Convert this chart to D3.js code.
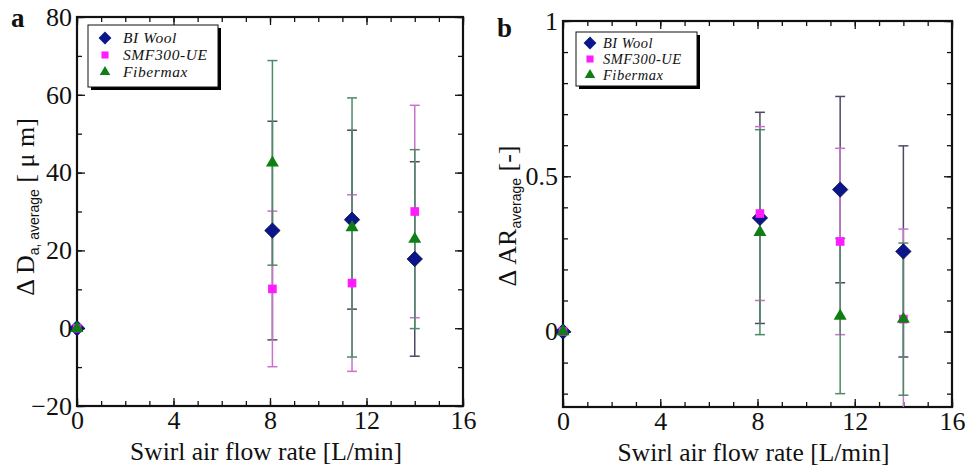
<!DOCTYPE html>
<html>
<head>
<meta charset="utf-8">
<script src="https://cdn.jsdelivr.net/npm/d3@7"></script>
<style>
  body { margin: 0; background: #fff; }
  svg { display: block; }
</style>
</head>
<body>
<div id="chart"></div>
<script>
// swirl air flow rate [L/min]
var flowRates = [0, 8.1, 11.4, 14.0];
var seriesNames = ["BI Wool", "SMF300-UE", "Fibermax"];

// panel a: change of average diameter [um], with error bar half widths
var daBIWool = [0, 25.1, 27.9, 17.8];
var daBIWoolErr = [0, 28.1, 23.0, 25.0];
var daSMF = [0, 10.1, 11.6, 30.0];
var daSMFErr = [0, 20.0, 22.7, 27.3];
var daFiber = [0, 42.5, 25.9, 22.9];
var daFiberErr = [0, 26.3, 33.3, 23.0];

// panel b: change of average aspect ratio [-]
var arBIWool = [0, 0.366, 0.457, 0.258];
var arBIWoolErr = [0, 0.34, 0.30, 0.34];
var arSMF = [0, 0.38, 0.29, 0.04];
var arSMFErr = [0, 0.28, 0.30, 0.29];
var arFiber = [0, 0.32, 0.05, 0.04];
var arFiberErr = [0, 0.33, 0.25, 0.245];

var xTicks = [0, 4, 8, 12, 16];
var xMinor = d3.range(0, 17, 1);
var yTicksA = [-20, 0, 20, 40, 60, 80];
var yMinorA = d3.range(-20, 81, 10);
var yTicksB = [0, 0.5, 1];
var yMinorB = d3.range(-2, 11, 1).map(function (d) { return d / 10; });

var serif = "'Liberation Serif', 'Times New Roman', serif";
var markerFill = { "BI Wool": "#0b168a", "SMF300-UE": "#ff1cff", "Fibermax": "#0f7f14" };
var barColor = { "BI Wool": "#4a4a66", "SMF300-UE": "#c872cc", "Fibermax": "#4d8a66" };
var symbolType = { "BI Wool": d3.symbolDiamond2, "SMF300-UE": d3.symbolSquare2, "Fibermax": d3.symbolTriangle2 };

var svg = d3.select("#chart").append("svg").attr("width", 968).attr("height", 471);

function buildRows(vals) {
  // vals: [[values, errors], ...] in series order
  var rows = [];
  vals.forEach(function (pair, si) {
    flowRates.forEach(function (x, i) {
      rows.push({ name: seriesNames[si], x: x, y: pair[0][i], e: pair[1][i] });
    });
  });
  return rows;
}

function drawPanel(cfg) {
  var x = d3.scaleLinear().domain([0, 16]).range([cfg.left, cfg.right]);
  var y = d3.scaleLinear().domain(cfg.yDomain).range([cfg.bottom, cfg.top]);
  var g = svg.append("g");

  var clipId = "clip-" + cfg.id;
  g.append("clipPath").attr("id", clipId).append("rect")
    .attr("x", cfg.left).attr("y", cfg.top)
    .attr("width", cfg.right - cfg.left).attr("height", cfg.bottom - cfg.top);

  // ticks, all pointing inward, mirrored on top and right
  function addAxis(axis, tx, ty, labels) {
    var a = g.append("g").attr("transform", "translate(" + tx + "," + ty + ")").call(axis);
    a.select(".domain").remove();
    a.selectAll("line").attr("stroke", "#111").attr("stroke-width", 1.3);
    a.selectAll("text").attr("font-family", serif).attr("font-size", 26).attr("fill", "#111");
    if (!labels) a.selectAll("text").remove();
    return a;
  }
  addAxis(d3.axisBottom(x).tickValues(xMinor).tickSize(-5).tickFormat(""), 0, cfg.bottom, false);
  addAxis(d3.axisTop(x).tickValues(xMinor).tickSize(-5).tickFormat(""), 0, cfg.top, false);
  addAxis(d3.axisBottom(x).tickValues(xTicks).tickSize(-8).tickPadding(5).tickFormat(d3.format("d")), 0, cfg.bottom, true);
  addAxis(d3.axisTop(x).tickValues(xTicks).tickSize(-8).tickFormat(""), 0, cfg.top, false);
  addAxis(d3.axisLeft(y).tickValues(cfg.yMinor).tickSize(-5).tickFormat(""), cfg.left, 0, false);
  addAxis(d3.axisRight(y).tickValues(cfg.yMinor).tickSize(-5).tickFormat(""), cfg.right, 0, false);
  addAxis(d3.axisLeft(y).tickValues(cfg.yTicks).tickSize(-8).tickPadding(5).tickFormat(cfg.yFormat), cfg.left, 0, true);
  addAxis(d3.axisRight(y).tickValues(cfg.yTicks).tickSize(-8).tickFormat(""), cfg.right, 0, false);

  g.append("rect")
    .attr("x", cfg.left).attr("y", cfg.top)
    .attr("width", cfg.right - cfg.left).attr("height", cfg.bottom - cfg.top)
    .attr("fill", "none").attr("stroke", "#111").attr("stroke-width", 2.2);

  // error bars
  var bars = cfg.rows.filter(function (d) { return d.e > 0; });
  var eb = g.append("g").attr("clip-path", "url(#" + clipId + ")")
    .selectAll("g").data(bars).join("g")
    .attr("stroke", function (d) { return barColor[d.name]; })
    .attr("stroke-width", 1.5);
  eb.append("line")
    .attr("x1", function (d) { return x(d.x); }).attr("x2", function (d) { return x(d.x); })
    .attr("y1", function (d) { return y(d.y - d.e); }).attr("y2", function (d) { return y(d.y + d.e); });
  eb.append("line")
    .attr("x1", function (d) { return x(d.x) - 5; }).attr("x2", function (d) { return x(d.x) + 5; })
    .attr("y1", function (d) { return y(d.y + d.e); }).attr("y2", function (d) { return y(d.y + d.e); });
  eb.append("line")
    .attr("x1", function (d) { return x(d.x) - 5; }).attr("x2", function (d) { return x(d.x) + 5; })
    .attr("y1", function (d) { return y(d.y - d.e); }).attr("y2", function (d) { return y(d.y - d.e); });

  // markers
  var sizes = { "BI Wool": 150, "SMF300-UE": 95, "Fibermax": 120 };
  g.append("g").selectAll("path").data(cfg.rows).join("path")
    .attr("transform", function (d) { return "translate(" + x(d.x) + "," + y(d.y) + ")"; })
    .attr("d", function (d) { return d3.symbol(symbolType[d.name], sizes[d.name])(); })
    .attr("fill", function (d) { return markerFill[d.name]; })
    .attr("stroke", function (d) { return d.name === "BI Wool" ? "#0a0a4a" : "none"; })
    .attr("stroke-width", 0.8);

  // legend
  var lg = g.append("g").attr("transform", "translate(" + cfg.legend[0] + "," + cfg.legend[1] + ")");
  lg.append("rect").attr("x", 3).attr("y", 3).attr("width", cfg.legendSize[0]).attr("height", cfg.legendSize[1]).attr("fill", "#000");
  lg.append("rect").attr("width", cfg.legendSize[0]).attr("height", cfg.legendSize[1])
    .attr("fill", "#fff").attr("stroke", "#111").attr("stroke-width", 1);
  var legendSizes = { "BI Wool": 105, "SMF300-UE": 64, "Fibermax": 80 };
  var items = lg.selectAll("g.item").data(seriesNames).join("g").attr("class", "item")
    .attr("transform", function (d, i) { return "translate(0," + (cfg.legendRow0 + i * cfg.legendStep) + ")"; });
  items.append("path")
    .attr("transform", "translate(" + cfg.legendMarkX + ",0)")
    .attr("d", function (d) { return d3.symbol(symbolType[d], legendSizes[d])(); })
    .attr("fill", function (d) { return markerFill[d]; });
  items.append("text")
    .attr("x", cfg.legendTextX).attr("dy", "0.35em")
    .attr("font-family", serif).attr("font-style", "italic").attr("font-size", cfg.legendFont)
    .attr("letter-spacing", cfg.legendSpacing)
    .attr("fill", "#111")
    .text(function (d) { return d; });

  // x title
  g.append("text")
    .attr("x", (cfg.left + cfg.right) / 2 - 4).attr("y", cfg.xTitleY)
    .attr("text-anchor", "middle").attr("font-family", serif).attr("font-size", 25.5).attr("fill", "#111")
    .text("Swirl air flow rate [L/min]");

  // y title
  var yt = g.append("text")
    .attr("transform", "translate(" + cfg.yTitle[0] + "," + cfg.yTitle[1] + ") rotate(-90)")
    .attr("text-anchor", "middle").attr("font-family", serif).attr("font-size", 26).attr("fill", "#111");
  yt.append("tspan").text(cfg.yMain);
  yt.append("tspan").attr("dy", 5).attr("font-family", "'Liberation Sans', Arial, sans-serif")
    .attr("font-size", 14).text(cfg.ySub);
  yt.append("tspan").attr("dy", -5).text(cfg.yUnit);

  // panel letter
  g.append("text").attr("x", cfg.letter[0]).attr("y", cfg.letter[1])
    .attr("font-family", serif).attr("font-weight", "bold").attr("font-size", 27).attr("fill", "#111")
    .text(cfg.id);
}

drawPanel({
  id: "a", left: 77, right: 463, top: 17, bottom: 406,
  yDomain: [-20, 80], yTicks: yTicksA, yMinor: yMinorA, yFormat: d3.format("d"),
  rows: buildRows([[daBIWool, daBIWoolErr], [daSMF, daSMFErr], [daFiber, daFiberErr]]),
  legend: [88, 25], legendSize: [130, 62], legendRow0: 13, legendStep: 17,
  legendMarkX: 17, legendTextX: 35, legendFont: 15.5, legendSpacing: 0.6,
  xTitleY: 460, yTitle: [34, 207],
  yMain: "\u0394 D", ySub: "a, average", yUnit: " [ \u03bc m]",
  letter: [11, 27]
});

drawPanel({
  id: "b", left: 563, right: 952, top: 21, bottom: 407,
  yDomain: [-0.243, 1], yTicks: yTicksB, yMinor: yMinorB, yFormat: function (d) { return d === 0 ? "0" : d === 1 ? "1" : d3.format(".1f")(d); },
  rows: buildRows([[arBIWool, arBIWoolErr], [arSMF, arSMFErr], [arFiber, arFiberErr]]),
  legend: [576, 32], legendSize: [121, 54], legendRow0: 11, legendStep: 16,
  legendMarkX: 14, legendTextX: 27, legendFont: 14.5, legendSpacing: 0.5,
  xTitleY: 461, yTitle: [516, 216],
  yMain: "\u0394 AR", ySub: "average", yUnit: " [-]",
  letter: [497, 37]
});
</script>
</body>
</html>
